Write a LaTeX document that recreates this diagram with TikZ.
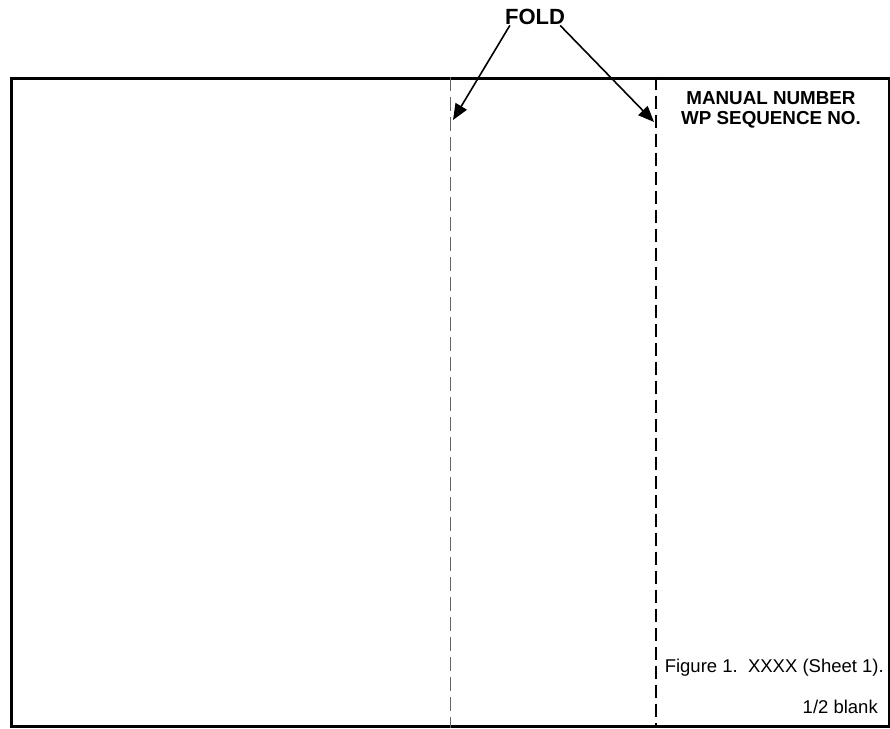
\documentclass[tikz,border=0pt]{standalone}
\usepackage{fontspec}
\setmainfont{Liberation Sans}
\usetikzlibrary{arrows.meta, positioning, calc}
\tikzset{sheetbox/.style={draw, line width=3pt, inner sep=0pt}}
\tikzset{fold thin/.style={draw=black!60, line width=1pt, dash pattern=on 14pt off 6pt}}
\tikzset{fold thick/.style={draw, line width=2pt, dash pattern=on 13pt off 6pt}}
\tikzset{pointer/.style={-{Triangle[length=16pt, width=13pt]}, line width=1.6pt}}
\tikzset{heading/.style={font=\fontsize{18.8}{20}\selectfont\bfseries, align=center, inner sep=0pt}}
\tikzset{caption/.style={font=\fontsize{18.5}{20}\selectfont, inner sep=0pt}}

\begin{document}
\begin{tikzpicture}[x=1pt, y=-1pt]
\useasboundingbox (0,0) rectangle (890,728);

\node[sheetbox, anchor=north west, minimum width=878pt, minimum height=648.5pt] (sheet) at (9.5,76.5) {};

\coordinate (foldL) at (450,76.5);
\coordinate (foldR) at (655.5,76.5);
\draw[fold thin] (foldL) -- (foldL |- sheet.south);
\draw[fold thick] (foldR) -- (foldR |- sheet.south);

\node[font=\fontsize{22}{24}\selectfont\bfseries, inner sep=1pt, anchor=base] (fold) at (535,24) {FOLD};
\coordinate (tipL) at (453,120);
\coordinate (tipR) at (654,122);
\draw[pointer] ([xshift=6pt]fold.south west) -- (tipL);
\draw[pointer] ([xshift=-6pt]fold.south east) -- (tipR);

\node[heading, anchor=north] (manual) at (771,91.5) {MANUAL NUMBER\\WP SEQUENCE NO.};

\node[caption, anchor=base east] (figcap) at (884,672) {Figure 1.\ \ XXXX (Sheet 1).};
\node[caption, anchor=base east] (blank) at (878,713) {1/2 blank};

\end{tikzpicture}
\end{document}
